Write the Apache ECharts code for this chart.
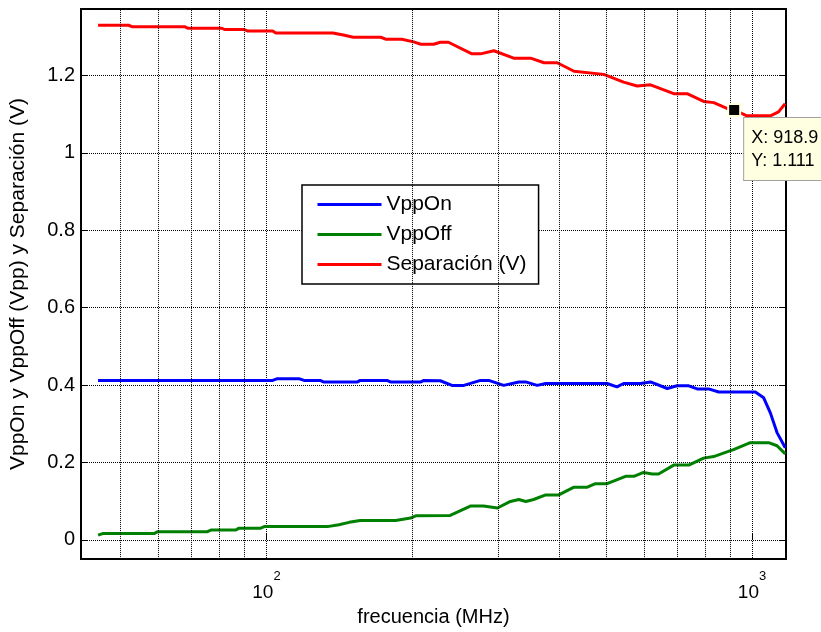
<!DOCTYPE html>
<html>
<head>
<meta charset="utf-8">
<script src="https://cdn.jsdelivr.net/npm/echarts@6/dist/echarts.min.js"></script>
<style>
  html, body { margin: 0; padding: 0; background: #fff; }
  #chart { width: 821px; height: 632px; }
</style>
</head>
<body>
<div id="chart"></div>
<script>
// [frecuencia MHz, valor V]
const vppOn = [
  [45, 0.412], [103, 0.412], [105, 0.416], [117, 0.416], [119.5, 0.412], [129, 0.412],
  [131, 0.408], [154, 0.408], [156, 0.412], [177, 0.412], [180, 0.408], [208, 0.408],
  [211, 0.412], [228, 0.411], [241, 0.399], [255, 0.399], [276, 0.412], [287, 0.412],
  [308, 0.399], [331, 0.408], [342, 0.408], [361, 0.399], [376, 0.404], [400, 0.404],
  [443, 0.404], [503, 0.404], [527, 0.395], [544, 0.404], [589, 0.404], [618, 0.408],
  [669, 0.391], [701, 0.398], [741, 0.398], [771, 0.390], [814, 0.390], [854, 0.382],
  [954, 0.382], [961, 0.378], [976, 0.382], [1016, 0.382], [1057, 0.367], [1091, 0.328],
  [1126, 0.277], [1171, 0.238]
]
const vppOff = [
  [45, 0.012], [46, 0.016], [58.7, 0.016], [59.7, 0.021], [75.6, 0.021], [76.8, 0.025],
  [86.5, 0.025], [87.8, 0.030], [97.3, 0.030], [99, 0.034], [133.5, 0.034], [141, 0.039],
  [148, 0.045], [156, 0.050], [184.5, 0.050], [198, 0.056], [203, 0.062], [239, 0.063],
  [263, 0.087], [280, 0.087], [299, 0.082], [318, 0.099], [331, 0.104], [342, 0.099],
  [355, 0.104], [376, 0.116], [400, 0.116], [430, 0.136], [458, 0.136], [476, 0.145],
  [503, 0.145], [549, 0.164], [571, 0.164], [598, 0.174], [623, 0.170], [642, 0.170],
  [690, 0.193], [741, 0.193], [795, 0.211], [834, 0.215], [888, 0.227], [916, 0.233],
  [992, 0.251], [1082, 0.251], [1126, 0.243], [1171, 0.222]
]
const separacion = [
  [45, 1.330], [52, 1.330], [53, 1.326], [68, 1.326], [69, 1.322], [81, 1.322],
  [82, 1.319], [90, 1.319], [91.5, 1.315], [103, 1.315], [104.5, 1.310], [137, 1.310],
  [144, 1.305], [151, 1.299], [172, 1.299], [176, 1.294], [190, 1.294], [201, 1.287],
  [208, 1.281], [221, 1.281], [228, 1.286], [237, 1.286], [265, 1.256], [276, 1.256],
  [294, 1.264], [323, 1.245], [350, 1.245], [373, 1.233], [397, 1.233], [430, 1.211],
  [495, 1.203], [544, 1.183], [580, 1.173], [618, 1.176], [690, 1.153], [735, 1.153],
  [795, 1.133], [834, 1.130], [888, 1.115], [918.9, 1.111], [976, 1.096], [1091, 1.096],
  [1134, 1.106], [1170, 1.127]
]

const seriesNames = ['VppOn', 'VppOff', 'Separación (V)']
const minorTicks = [50, 60, 70, 80, 90, 200, 300, 400, 500, 600, 700, 800, 900]
const dataTip = [918.9, 1.111]

const fontFamily = "'Liberation Sans', Arial, sans-serif"

const chart = echarts.init(document.getElementById('chart'), null, { renderer: 'canvas' })

// rejilla punteada estilo matlab
const dotted = { color: '#000', width: 1, type: [1, 1] }

const option = {
  animation: false,
  backgroundColor: '#fff',
  textStyle: { fontFamily: fontFamily },
  grid: {
    left: 80, right: 35, top: 9, bottom: 67,
    show: true, borderColor: '#000', borderWidth: 2, backgroundColor: '#fff'
  },
  legend: {
    data: seriesNames,
    left: 302, top: 185,
    orient: 'vertical',
    itemWidth: 64, itemHeight: 20, itemGap: 9,
    padding: [9, 12, 9, 14],
    borderColor: '#000', borderWidth: 1.5,
    backgroundColor: '#fff',
    selectedMode: false,
    itemStyle: { opacity: 0 },
    lineStyle: { width: 3 },
    textStyle: { fontSize: 21, color: '#000', fontFamily: fontFamily }
  },
  xAxis: {
    type: 'log',
    logBase: 10,
    min: 41.5,
    max: 1175,
    name: 'frecuencia (MHz)',
    nameLocation: 'middle',
    nameGap: 42,
    nameTextStyle: { fontSize: 20, color: '#000', fontFamily: fontFamily },
    axisLine: { show: false },
    axisTick: { show: true, inside: true, length: 6, lineStyle: { color: '#000' } },
    axisLabel: {
      margin: 11,
      color: '#000',
      formatter: function (v) {
        const e = Math.log10(v)
        if (Math.abs(e - Math.round(e)) > 1e-6) return ''
        return '{b|10}{s|' + Math.round(e) + '}'
      },
      rich: {
        b: { fontSize: 19, lineHeight: 32, verticalAlign: 'bottom', color: '#000', fontFamily: fontFamily },
        s: { fontSize: 13, lineHeight: 10, verticalAlign: 'top', color: '#000', fontFamily: fontFamily }
      }
    },
    splitLine: { show: true, lineStyle: dotted }
  },
  yAxis: [{
    type: 'value',
    min: -0.05,
    max: 1.372,
    splitNumber: 7,
    name: 'VppOn y VppOff (Vpp) y Separación (V)',
    nameLocation: 'middle',
    nameGap: 52,
    nameTextStyle: { fontSize: 21, color: '#000', fontFamily: fontFamily },
    axisLine: { show: false },
    axisTick: { show: true, inside: true, length: 6, lineStyle: { color: '#000' } },
    axisLabel: {
      margin: 6,
      fontSize: 20,
      color: '#000',
      formatter: function (v) {
        if (Math.abs(v * 5 - Math.round(v * 5)) > 1e-6) return ''
        return String(+v.toFixed(1))
      }
    },
    splitLine: { show: true, lineStyle: dotted }
  }, {
    type: 'value',
    position: 'right',
    min: -0.05,
    max: 1.372,
    splitNumber: 7,
    axisLine: { show: false },
    axisTick: { show: true, inside: true, length: 6, lineStyle: { color: '#000' } },
    axisLabel: { show: false },
    splitLine: { show: false }
  }],
  series: [{
    name: seriesNames[0],
    type: 'line',
    data: vppOn,
    symbol: 'none',
    lineStyle: { color: '#0000ff', width: 3 },
    itemStyle: { color: '#0000ff' },
    markLine: {
      silent: true,
      symbol: ['none', 'none'],
      label: { show: false },
      lineStyle: dotted,
      emphasis: { disabled: true },
      data: minorTicks.map(v => ({ xAxis: v }))
    }
  }, {
    name: seriesNames[1],
    type: 'line',
    data: vppOff,
    symbol: 'none',
    lineStyle: { color: '#008000', width: 3 },
    itemStyle: { color: '#008000' }
  }, {
    name: seriesNames[2],
    type: 'line',
    data: separacion,
    symbol: 'none',
    lineStyle: { color: '#ff0000', width: 3 },
    itemStyle: { color: '#ff0000' },
    markPoint: {
      silent: true,
      symbol: 'rect',
      symbolSize: 12,
      itemStyle: { color: '#000', borderColor: '#ffffd8', borderWidth: 2, opacity: 1 },
      label: {
        show: true,
        position: ['100%', '100%'],
        offset: [3, 1],
        align: 'left',
        verticalAlign: 'top',
        formatter: 'X: ' + dataTip[0] + '\nY: ' + dataTip[1],
        fontSize: 18,
        lineHeight: 23,
        color: '#000',
        fontFamily: fontFamily,
        backgroundColor: '#ffffe1',
        borderColor: '#a0a0a0',
        borderWidth: 1,
        padding: [9, 6, 7, 7]
      },
      data: [{ coord: dataTip }]
    }
  }]
}

chart.setOption(option)
</script>
</body>
</html>
